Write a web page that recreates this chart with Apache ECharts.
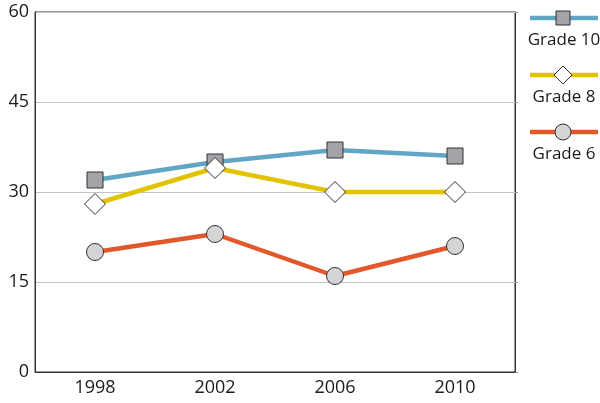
<!DOCTYPE html>
<html>
<head>
<meta charset="utf-8">
<script src="https://cdn.jsdelivr.net/npm/echarts@6/dist/echarts.min.js"></script>
<style>html,body{margin:0;padding:0;background:#fff}#c{width:600px;height:403px}</style>
</head>
<body>
<div id="c"></div>
<script>
const years = ['1998', '2002', '2006', '2010'];
const grade10 = [32, 35, 37, 36];
const grade8 = [28, 34, 30, 30];
const grade6 = [20, 23, 16, 21];
const yTicks = [0, 15, 30, 45, 60];

const FONT = '"Open Sans", "Noto Sans", sans-serif';
const seriesDefs = [
  { name: 'Grade 10', data: grade10, color: '#62a6c6', symbol: 'rect', size: 16, fill: '#a4a4a8' },
  { name: 'Grade 8', data: grade8, color: '#e2c300', symbol: 'diamond', size: 21, fill: '#ffffff' },
  { name: 'Grade 6', data: grade6, color: '#e2582a', symbol: 'circle', size: 17, fill: '#d4d4d6' }
];

const chart = echarts.init(document.getElementById('c'));

const legendGraphics = [];
seriesDefs.forEach((s, i) => {
  const y0 = 18 + i * 57;
  legendGraphics.push({
    type: 'line', shape: { x1: 530, y1: y0, x2: 598, y2: y0 },
    style: { stroke: s.color, lineWidth: 4.5 }, z: 10
  });
  if (s.symbol === 'rect') {
    legendGraphics.push({ type: 'rect', shape: { x: 563 - 7, y: y0 - 7, width: 14, height: 14 },
      style: { fill: s.fill, stroke: '#333', lineWidth: 1 }, z: 11 });
  } else if (s.symbol === 'diamond') {
    legendGraphics.push({ type: 'polygon', shape: { points: [[563, y0 - 9], [572, y0], [563, y0 + 9], [554, y0]] },
      style: { fill: s.fill, stroke: '#333', lineWidth: 1 }, z: 11 });
  } else {
    legendGraphics.push({ type: 'circle', shape: { cx: 563, cy: y0, r: 8 },
      style: { fill: s.fill, stroke: '#333', lineWidth: 1 }, z: 11 });
  }
  legendGraphics.push({
    type: 'text', x: 564, y: y0 + 22,
    style: { text: s.name, font: '17px ' + FONT, fill: '#1a1a1a', align: 'center', verticalAlign: 'middle' }, z: 11
  });
});

chart.setOption({
  animation: false,
  backgroundColor: '#fff',
  grid: { left: 35, right: 85, top: 12, bottom: 31, show: true, borderColor: '#333', borderWidth: 1 },
  xAxis: {
    type: 'category', data: years, boundaryGap: true,
    axisLine: { lineStyle: { color: '#333', width: 1 } },
    axisTick: { show: false },
    axisLabel: { color: '#1a1a1a', fontSize: 18, fontFamily: FONT, margin: 7 },
    splitLine: { show: false }
  },
  yAxis: [{
    type: 'value', min: 0, max: 60, interval: 15,
    axisLine: { show: true, lineStyle: { color: '#333' } },
    axisTick: { show: false },
    axisLabel: { color: '#1a1a1a', fontSize: 18, fontFamily: FONT, margin: 6,
      formatter: v => yTicks.includes(v) ? String(v) : '' },
    splitLine: { show: true, lineStyle: { color: '#c4c4c4', width: 1 } }
  }, {
    type: 'value', min: 0, max: 60, interval: 15, position: 'right',
    axisLine: { show: true, lineStyle: { color: '#333' } },
    axisTick: { show: true, length: 3, lineStyle: { color: '#999' } },
    axisLabel: { show: false },
    splitLine: { show: false }
  }],
  series: seriesDefs.map((s, i) => ({
    name: s.name, type: 'line', data: s.data,
    symbol: s.symbol, symbolSize: s.size, showAllSymbol: true,
    lineStyle: { color: s.color, width: 4.5 },
    itemStyle: { color: s.fill, borderColor: '#333', borderWidth: 1 },
    z: 2 + i
  })),
  graphic: legendGraphics
});
</script>
</body>
</html>
